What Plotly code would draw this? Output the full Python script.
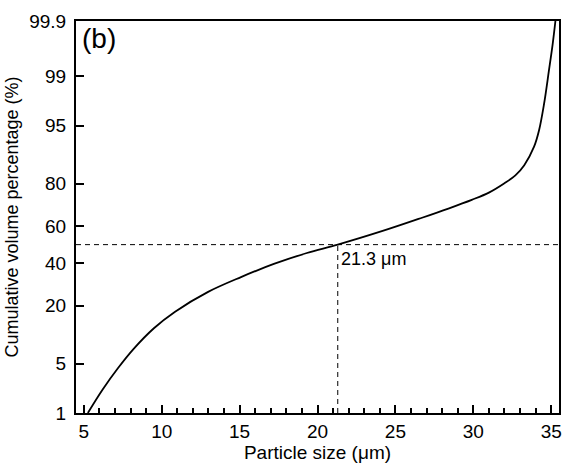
import plotly.graph_objects as go
from statistics import NormalDist

# Cumulative particle size distribution
size_um = [5.26, 6.2, 7.2, 8.2, 9.5, 10.86, 12.98, 15.09, 17.2, 19.32, 21.3,
           24.18, 26.71, 28.4, 29.9, 31.0, 32.0, 32.7, 33.27, 33.9, 34.22, 34.54,
           34.85, 35.1, 35.27]
cum_pct = [1.0, 2.25, 4.41, 7.49, 12.4, 17.7, 25.7, 32.7, 39.5, 45.4, 50.0,
           57.5, 64.5, 69.1, 73.2, 76.4, 80.2, 83.1, 86.4, 91.2, 94.3, 97.4,
           99.18, 99.73, 99.9]

y_ticks = [1, 5, 20, 40, 60, 80, 95, 99, 99.9]
x_ticks = [5, 10, 15, 20, 25, 30, 35]

d50_size = 21.3
d50_pct = 50

nd = NormalDist()


def probit(p):
    return nd.inv_cdf(p / 100.0)


FONT = "Liberation Sans, Arial, sans-serif"

fig = go.Figure()

fig.add_trace(go.Scatter(
    x=size_um, y=[probit(p) for p in cum_pct],
    mode="lines", line=dict(color="black", width=1.8, shape="spline", smoothing=1.0),
    showlegend=False, hoverinfo="skip",
))

# d50 guide lines
fig.add_trace(go.Scatter(
    x=[4.5, 35.5], y=[probit(d50_pct)] * 2, mode="lines",
    line=dict(color="black", width=1, dash="5px,4px"), showlegend=False,
))
fig.add_trace(go.Scatter(
    x=[d50_size, d50_size], y=[probit(1), probit(d50_pct)], mode="lines",
    line=dict(color="black", width=1, dash="5px,4px"), showlegend=False,
))

fig.add_annotation(
    x=d50_size, y=probit(d50_pct), text="21.3 \u03bcm", showarrow=False,
    xanchor="left", yanchor="top", xshift=1, yshift=-2,
    font=dict(family=FONT, size=18, color="black"),
)
fig.add_annotation(
    x=0.008, y=1.0, xref="paper", yref="paper", text="(b)", showarrow=False,
    xanchor="left", yanchor="top", font=dict(family=FONT, size=28, color="black"),
)

fig.update_layout(
    width=573, height=473,
    margin=dict(l=73, r=11, t=16, b=60),
    paper_bgcolor="white", plot_bgcolor="white",
    font=dict(family=FONT, size=19, color="black"),
    xaxis=dict(
        range=[4.5, 35.5], tickvals=x_ticks, ticks="inside", ticklen=8, tickwidth=1.5,
        tickcolor="black", showline=True, linecolor="black", linewidth=2, mirror=True,
        showgrid=False, zeroline=False,
        minor=dict(dtick=1, ticks="inside", ticklen=5, tickwidth=1.5, tickcolor="black"),
        title=dict(text="Particle size (\u03bcm)", standoff=4, font=dict(size=19)),
    ),
    yaxis=dict(
        range=[probit(1), probit(99.9)], tickvals=[probit(v) for v in y_ticks],
        ticktext=[str(v) for v in y_ticks], ticks="inside", ticklen=8, tickwidth=1.5,
        tickcolor="black", showline=True, linecolor="black", linewidth=2, mirror=True,
        showgrid=False, zeroline=False, ticklabelstandoff=4,
        title=dict(text="Cumulative volume percentage (%)", standoff=6, font=dict(size=18)),
    ),
)

fig.write_html("out.html")
